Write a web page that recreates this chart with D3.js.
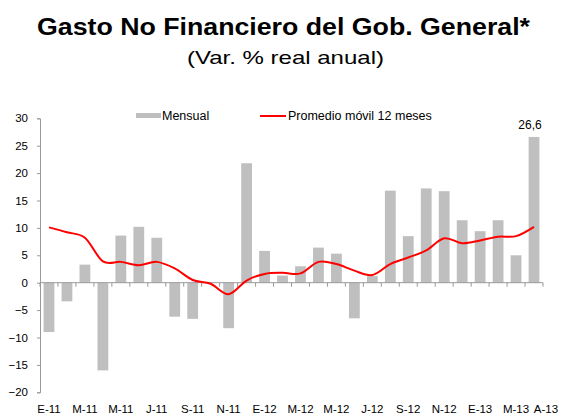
<!DOCTYPE html>
<html>
<head>
<meta charset="utf-8">
<script src="https://cdn.jsdelivr.net/npm/d3@7"></script>
<style>
  body { margin: 0; background: #fff; }
  svg { font-family: "Liberation Sans", Arial, sans-serif; }
</style>
</head>
<body>
<svg width="564" height="416"></svg>
<script>
// months Jan-11 .. Apr-13
const months = ["E-11","F-11","M-11","A-11","M-11","J-11","J-11","A-11","S-11","O-11","N-11","D-11",
  "E-12","F-12","M-12","A-12","M-12","J-12","J-12","A-12","S-12","O-12","N-12","D-12",
  "E-13","F-13","M-13","A-13"];
// monthly real annual change
const mensual = [-9.0, -3.4, 3.3, -16.0, 8.6, 10.2, 8.2, -6.2, -6.6, 0, -8.3, 21.8,
  5.8, 1.3, 3.0, 6.4, 5.3, -6.5, 1.2, 16.8, 8.5, 17.2, 16.7, 11.4,
  9.4, 11.4, 5.0, 26.6];
// 12 month moving average
const promedio = [10.1, 9.2, 8.2, 3.9, 3.8, 3.2, 3.8, 2.6, 0.5, -0.2, -2.1, 0.4,
  1.6, 1.8, 1.7, 3.8, 3.4, 2.2, 1.4, 3.4, 4.6, 5.9, 8.1, 7.2,
  7.7, 8.4, 8.5, 10.2];
const tickIdx = [0, 2, 4, 6, 8, 10, 12, 14, 16, 18, 20, 22, 24, 26, 27];
const yTicks = [-20, -15, -10, -5, 0, 5, 10, 15, 20, 25, 30];

const svg = d3.select("svg");

let x = d3.scaleBand()
  .domain(d3.range(months.length))
  .range([40, 543])
  .paddingInner(0.4)
  .paddingOuter(0.2);

let y = d3.scaleLinear().domain([-20, 30]).range([392.3, 118.3]);

// title (the original picture is stretched sideways)
svg.append("text")
  .attr("x", 37).attr("y", 35)
  .attr("textLength", 493).attr("lengthAdjust", "spacingAndGlyphs")
  .style("font-size", "23px").style("font-weight", "bold")
  .text("Gasto No Financiero del Gob. General*");
svg.append("text")
  .attr("x", 187).attr("y", 64)
  .attr("textLength", 197).attr("lengthAdjust", "spacingAndGlyphs")
  .style("font-size", "19px")
  .text("(Var. % real anual)");

// y axis
let yAxis = d3.axisLeft(y).tickValues(yTicks).tickSize(3).tickPadding(9);
let gy = svg.append("g").attr("transform", "translate(40,0)").call(yAxis);
gy.select(".domain").attr("stroke", "#999");
gy.selectAll(".tick line").attr("stroke", "#999");
gy.selectAll("text").style("font-size", "11.5px").attr("fill", "#000")
  .style("font-family", "Liberation Sans, Arial, sans-serif");

// bars
svg.selectAll("rect.bar")
  .data(mensual)
  .enter()
  .append("rect")
  .attr("class", "bar")
  .attr("x", (d, i) => x(i))
  .attr("width", x.bandwidth())
  .attr("y", (d) => y(Math.max(0, d)))
  .attr("height", (d) => Math.abs(y(d) - y(0)))
  .attr("fill", "#bfbfbf");

// x axis at zero
let gx = svg.append("g").attr("transform", "translate(0," + y(0) + ")");
gx.append("line").attr("x1", 40).attr("x2", 543).attr("stroke", "#999");
gx.selectAll("line.tk")
  .data(d3.range(months.length + 1))
  .enter()
  .append("line")
  .attr("class", "tk")
  .attr("x1", (i) => 40 + i * x.step())
  .attr("x2", (i) => 40 + i * x.step())
  .attr("y1", 0).attr("y2", 4)
  .attr("stroke", "#999");

svg.selectAll("text.xl")
  .data(tickIdx)
  .enter()
  .append("text")
  .attr("class", "xl")
  .attr("x", (i) => x(i) + x.bandwidth() / 2)
  .attr("dx", (i) => (i === months.length - 1 ? 12 : 0))
  .attr("y", 413)
  .attr("text-anchor", "middle")
  .style("font-size", "11.5px")
  .text((i) => months[i]);

// moving average line
let line = d3.line()
  .x((d, i) => x(i) + x.bandwidth() / 2)
  .y((d) => y(d))
  .curve(d3.curveCatmullRom.alpha(0));
svg.append("path")
  .datum(promedio)
  .attr("d", line)
  .attr("fill", "none")
  .attr("stroke", "#ff0000")
  .attr("stroke-width", 2);

// last value label
let last = mensual.length - 1;
svg.append("text")
  .attr("x", x(last) + x.bandwidth() / 2 - 4)
  .attr("y", y(mensual[last]) - 8)
  .attr("text-anchor", "middle")
  .style("font-size", "12px")
  .text(String(mensual[last]).replace(".", ","));

// legend
svg.append("rect").attr("x", 136).attr("y", 113).attr("width", 25).attr("height", 5).attr("fill", "#bfbfbf");
svg.append("text").attr("x", 162).attr("y", 120).style("font-size", "12.5px").text("Mensual");
svg.append("line").attr("x1", 260).attr("x2", 286).attr("y1", 116).attr("y2", 116)
  .attr("stroke", "#ff0000").attr("stroke-width", 2);
svg.append("text").attr("x", 288).attr("y", 120).style("font-size", "12.5px").text("Promedio móvil 12 meses");
</script>
</body>
</html>
